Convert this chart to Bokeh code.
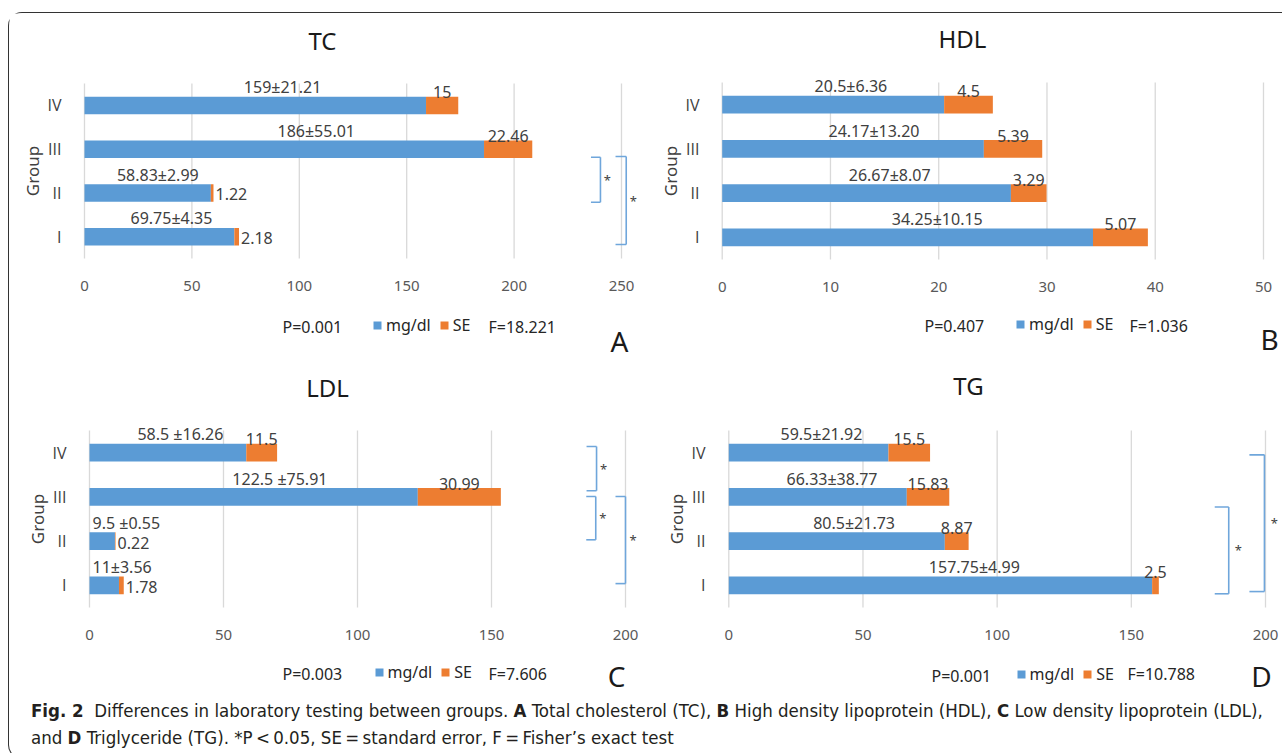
from bokeh.plotting import figure
from bokeh.models import Range1d, FixedTicker, Label, Legend, LegendItem, Div, Spacer, ColumnDataSource
from bokeh.layouts import row, column
from bokeh.embed import file_html
from bokeh.resources import INLINE
from bokeh.core.properties import value

# ---------------- data ----------------
groups = ["I", "II", "III", "IV"]

tc_mean = [69.75, 58.83, 186, 159]
tc_se = [2.18, 1.22, 22.46, 15]
tc_label = ["69.75±4.35", "58.83±2.99", "186±55.01", "159±21.21"]
tc_stats = ["P=0.001", "F=18.221"]
tc_ticks = [0, 50, 100, 150, 200, 250]

hdl_mean = [34.25, 26.67, 24.17, 20.5]
hdl_se = [5.07, 3.29, 5.39, 4.5]
hdl_label = ["34.25±10.15", "26.67±8.07", "24.17±13.20", "20.5±6.36"]
hdl_stats = ["P=0.407", "F=1.036"]
hdl_ticks = [0, 10, 20, 30, 40, 50]

ldl_mean = [11, 9.5, 122.5, 58.5]
ldl_se = [1.78, 0.22, 30.99, 11.5]
ldl_label = ["11±3.56", "9.5 ±0.55", "122.5 ±75.91", "58.5 ±16.26"]
ldl_stats = ["P=0.003", "F=7.606"]
ldl_ticks = [0, 50, 100, 150, 200]

tg_mean = [157.75, 80.5, 66.33, 59.5]
tg_se = [2.5, 8.87, 15.83, 15.5]
tg_label = ["157.75±4.99", "80.5±21.73", "66.33±38.77", "59.5±21.92"]
tg_stats = ["P=0.001", "F=10.788"]
tg_ticks = [0, 50, 100, 150, 200]

series_names = ["mg/dl", "SE"]

# ---------------- style / layout ----------------
BLUE = "#5B9BD5"
ORANGE = "#ED7D31"
FONT = "Noto Sans"
YFONT = "Open Sans"
TXT = "#404040"
BRK = "#6FA6DB"

panels = [
    dict(title="TC", letter="A", mean=tc_mean, se=tc_se, label=tc_label, stats=tc_stats, ticks=tc_ticks,
         fig=(9, 13, 631, 347), frame_left=80, frame_top=83, frame_bottom=258, zero=84, ppu=2.148,
         title_pos=(322, 40), p_pos=(282, 326), leg_x=372, f_pos=(488, 326), letter_pos=(619, 340),
         brackets=[dict(top=1.815, bottom=0.786, x=240.2, tick=9.5, sdx=7),
                   dict(top=1.83, bottom=-0.18, x=252.2, tick=10.7, sdx=7)]),
    dict(title="HDL", letter="B", mean=hdl_mean, se=hdl_se, label=hdl_label, stats=hdl_stats, ticks=hdl_ticks,
         fig=(640, 13, 642, 347), frame_left=718, frame_top=82, frame_bottom=259, zero=721.7, ppu=10.826,
         title_pos=(962, 38), p_pos=(924, 325), leg_x=1015, f_pos=(1129, 325), letter_pos=(1269, 338),
         brackets=[]),
    dict(title="LDL", letter="C", mean=ldl_mean, se=ldl_se, label=ldl_label, stats=ldl_stats, ticks=ldl_ticks,
         fig=(9, 360, 631, 336), frame_left=85, frame_top=430, frame_bottom=607, zero=89, ppu=2.68,
         title_pos=(327, 387), p_pos=(282, 673), leg_x=373.5, f_pos=(488, 673), letter_pos=(616, 675),
         brackets=[dict(top=3.14, bottom=2.14, x=189.2, tick=10, sdx=7),
                   dict(top=2.01, bottom=1.03, x=188.9, tick=9.5, sdx=7),
                   dict(top=2.01, bottom=0.04, x=200.0, tick=10, sdx=7.5)]),
    dict(title="TG", letter="D", mean=tg_mean, se=tg_se, label=tg_label, stats=tg_stats, ticks=tg_ticks,
         fig=(640, 360, 642, 336), frame_left=724, frame_top=430, frame_bottom=607, zero=728.3, ppu=2.6835,
         title_pos=(968, 385), p_pos=(931, 675), leg_x=1015.5, f_pos=(1127, 673), letter_pos=(1261, 675),
         brackets=[dict(top=1.77, bottom=-0.19, x=186.3, tick=14, sdx=9.5),
                   dict(top=2.95, bottom=-0.14, x=199.6, tick=15, sdx=10)]),
]

BAR_H = 0.4


def build(cfg):
    fx, fy, fw, fh = cfg["fig"]
    fl, ft, fb = cfg["frame_left"], cfg["frame_top"], cfg["frame_bottom"]
    zero, ppu = cfg["zero"], cfg["ppu"]
    ppy = (fb - ft) / 4.0
    axis_max = cfg["ticks"][-1]
    n = len(groups)

    x_start = (fx - zero) / ppu
    x_end = (fx + fw - zero) / ppu
    y_start = -0.5 - (fy + fh - fb) / ppy
    y_end = n - 0.5 + (ft - fy) / ppy

    p = figure(width=fw, height=fh,
               x_range=Range1d(x_start, x_end), y_range=Range1d(y_start, y_end),
               output_backend="svg", toolbar_location=None,
               min_border=0, min_border_left=0, min_border_right=0,
               min_border_top=0, min_border_bottom=0,
               outline_line_color=None, background_fill_color="white",
               border_fill_color="white")

    # axes placed at the edges of the bar area
    p.xaxis.ticker = FixedTicker(ticks=cfg["ticks"])
    p.xaxis.fixed_location = -0.5
    p.xaxis.bounds = (cfg["ticks"][0], cfg["ticks"][-1])
    p.yaxis.ticker = FixedTicker(ticks=list(range(n)))
    p.yaxis.major_label_overrides = {i: g for i, g in enumerate(groups)}
    p.yaxis.fixed_location = (fl - zero) / ppu
    p.yaxis.bounds = (-0.5, n - 0.5)
    for ax in (p.xaxis[0], p.yaxis[0]):
        ax.axis_line_color = None
        ax.major_tick_line_color = None
        ax.minor_tick_line_color = None
    p.xaxis.major_label_text_font = FONT
    p.xaxis.major_label_text_font_size = "15px"
    p.xaxis.major_label_text_color = "#595959"
    p.xaxis.major_label_standoff = 16
    p.yaxis.major_label_text_font = YFONT
    p.yaxis.major_label_text_font_size = "16px"
    p.yaxis.major_label_text_color = TXT
    p.yaxis.major_label_standoff = 13
    p.yaxis.axis_label = "Group"
    p.yaxis.axis_label_text_font = FONT
    p.yaxis.axis_label_text_font_size = "17px"
    p.yaxis.axis_label_text_font_style = "normal"
    p.yaxis.axis_label_text_color = TXT
    p.yaxis.axis_label_standoff = 0
    p.xgrid.visible = False
    p.ygrid.visible = False

    # vertical grid lines over the bar area only
    ticks = cfg["ticks"]
    p.segment(x0=ticks, y0=[-0.5] * len(ticks), x1=ticks, y1=[n - 0.5] * len(ticks),
              line_color="#D9D9D9", line_width=1.3)

    # bars
    mean, se = cfg["mean"], cfg["se"]
    src = ColumnDataSource(dict(y=list(range(n)), mean=mean,
                                total=[m + s for m, s in zip(mean, se)]))
    r1 = p.hbar(y="y", left=0, right="mean", height=BAR_H, fill_color=BLUE, line_color=None, source=src)
    r2 = p.hbar(y="y", left="mean", right="total", height=BAR_H, fill_color=ORANGE, line_color=None, source=src)

    # data labels
    above = BAR_H / 2 - 1.5 / ppy
    c_x, c_y, c_t, l_x, l_y, l_t = [], [], [], [], [], []
    for i, (m, t) in enumerate(zip(mean, cfg["label"])):
        if m < 0.1 * axis_max:
            l_x.append(3.0 / ppu); l_y.append(i + above); l_t.append(t)
        else:
            c_x.append(0.58 * m); c_y.append(i + above); c_t.append(t)
    se_c_x, se_c_y, se_c_t, se_r_x, se_r_y, se_r_t = [], [], [], [], [], []
    for i, (m, s) in enumerate(zip(mean, se)):
        t = f"{s:g}"
        if s < 0.011 * axis_max:
            se_r_x.append(m + s + 2.0 / ppu); se_r_y.append(i - 1.5 / ppy); se_r_t.append(t)
        else:
            se_c_x.append(m + s / 2.0); se_c_y.append(i + above); se_c_t.append(t)

    common = dict(text_font=value(FONT), text_font_size="16px", text_color=TXT)
    if c_t:
        p.text(x=c_x, y=c_y, text=c_t, text_align="center", text_baseline="bottom", **common)
    if l_t:
        p.text(x=l_x, y=l_y, text=l_t, text_align="left", text_baseline="bottom", **common)
    if se_c_t:
        p.text(x=se_c_x, y=se_c_y, text=se_c_t, text_align="center", text_baseline="bottom", **common)
    if se_r_t:
        p.text(x=se_r_x, y=se_r_y, text=se_r_t, text_align="left", text_baseline="middle", **common)

    # significance brackets
    for b in cfg["brackets"]:
        tick = b["tick"] / ppu
        p.segment(x0=[b["x"], b["x"] - tick, b["x"] - tick], y0=[b["bottom"], b["top"], b["bottom"]],
                  x1=[b["x"], b["x"], b["x"]], y1=[b["top"], b["top"], b["bottom"]],
                  line_color=BRK, line_width=1.6)
        p.text(x=[b["x"] + b["sdx"] / ppu], y=[(b["top"] + b["bottom"]) / 2.0], text=["*"],
               text_align="center", text_baseline="middle", text_font=value(FONT),
               text_font_size="13px", text_color=TXT)

    # title, stats, letter (screen units, frame == whole figure)
    def lab(txt, pos, size, align="left", color="#262626"):
        p.add_layout(Label(x=pos[0] - fx, y=fy + fh - pos[1], x_units="screen", y_units="screen",
                           text=txt, text_align=align, text_baseline="middle",
                           text_font=FONT, text_font_size=size, text_color=color))

    lab(cfg["title"], cfg["title_pos"], "24px", "center", "#1a1a1a")
    lab(cfg["stats"][0], cfg["p_pos"], "16px")
    lab(cfg["stats"][1], cfg["f_pos"], "16px")
    lab(cfg["letter"], cfg["letter_pos"], "28px", "center", "#1a1a1a")

    legend = Legend(items=[LegendItem(label=series_names[0], renderers=[r1]),
                           LegendItem(label=series_names[1], renderers=[r2])],
                    orientation="horizontal",
                    location=(cfg["leg_x"] - fx, fy + fh - (cfg["p_pos"][1] + 10)),
                    glyph_width=10, glyph_height=10, label_standoff=4, spacing=8,
                    padding=0, margin=0, border_line_color=None, background_fill_alpha=0,
                    label_text_font=FONT, label_text_font_size="16px", label_text_color="#262626",
                    label_height=20)
    p.add_layout(legend)
    return p


figs = [build(c) for c in panels]

cap_font = ("font-family:'Liberation Sans Narrow','DejaVu Sans Condensed','Noto Sans',sans-serif;"
            "font-size:18.5px;line-height:20px;color:#231f20;padding-left:17px;white-space:nowrap;")
caption_html = (
    f'<div style="{cap_font}">'
    '<b>Fig. 2</b>&nbsp;&nbsp;Differences in laboratory testing between groups. <b>A</b> Total cholesterol (TC), '
    '<b>B</b> High density lipoprotein (HDL), <b>C</b> Low density lipoprotein (LDL),</div>'
    f'<div style="{cap_font}margin-top:7px;">'
    'and <b>D</b> Triglyceride (TG). *P&thinsp;&lt;&thinsp;0.05, SE&thinsp;=&thinsp;standard error, '
    'F&thinsp;=&thinsp;Fisher\u2019s exact test</div>'
)
caption = Div(text=caption_html, width=1273, height=52)

box = column(row(figs[0], figs[1]), row(figs[2], figs[3]), caption,
             styles={"border": "1px solid #333333", "border-right": "none",
                     "border-radius": "14px 0 0 14px"})
layout = column(Spacer(height=12), row(Spacer(width=8), box))

open("out.html", "w").write(file_html(layout, INLINE))
